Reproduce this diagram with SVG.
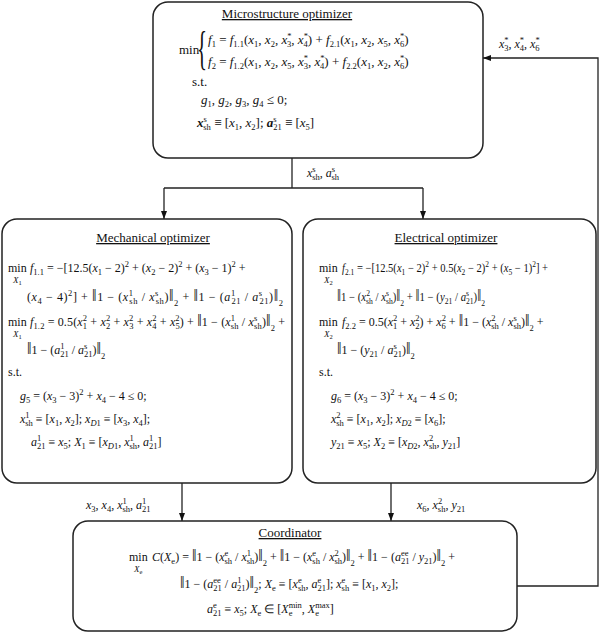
<svg xmlns="http://www.w3.org/2000/svg" width="600" height="633" viewBox="0 0 600 633">
<defs>
<style>
.box{fill:#fff;stroke:#222;stroke-width:1.5}
.ln{fill:none;stroke:#222;stroke-width:1.3}
.t{font-family:"Liberation Serif","Times New Roman",serif;font-size:13px;fill:#111}
.e{font-size:12px}
.h{font-size:13px;text-decoration:underline}
.i{font-style:italic}
.bi{font-style:italic;font-weight:bold}
.sb{font-size:8.5px;baseline-shift:-3px;font-style:normal}
.sp{font-size:8.5px;baseline-shift:5px;font-style:normal}
.n2{font-size:8.5px;baseline-shift:-5px;font-style:normal}
.nm{font-size:16px}
.mx{font-size:9px;font-style:italic}
.ss{font-size:6.5px;baseline-shift:-2px;font-style:normal}
</style>
<marker id="ah" markerWidth="8" markerHeight="8" refX="8" refY="4" orient="auto" markerUnits="userSpaceOnUse"><path d="M0,1 L8,4 L0,7 z" fill="#111"/></marker>
</defs>
<rect width="600" height="633" fill="#fff"/>

<g id="connectors">
<path class="ln" d="M292,158 V188"/>
<path class="ln" d="M164,188 H423"/>
<path class="ln" d="M164,188 V219" marker-end="url(#ah)"/>
<path class="ln" d="M423,188 V219" marker-end="url(#ah)"/>
<path class="ln" d="M182,483 V521" marker-end="url(#ah)"/>
<path class="ln" d="M391,483 V521" marker-end="url(#ah)"/>
<path class="ln" d="M517,586 H598 V58 H483" marker-end="url(#ah)"/>
<text class="t e" x="307" y="177"><tspan class="i">x</tspan><tspan class="sp">s</tspan><tspan class="sb" dx="-3.5">sh</tspan>, <tspan class="i">a</tspan><tspan class="sp">s</tspan><tspan class="sb" dx="-3.5">sh</tspan></text>
<text class="t e" x="499" y="48"><tspan class="i">x</tspan><tspan class="sp">*</tspan><tspan class="sb" dx="-4.3">3</tspan>, <tspan class="i">x</tspan><tspan class="sp">*</tspan><tspan class="sb" dx="-4.3">4</tspan>, <tspan class="i">x</tspan><tspan class="sp">*</tspan><tspan class="sb" dx="-4.3">6</tspan></text>
<text class="t e" x="86" y="509"><tspan class="i">x</tspan><tspan class="sb">3</tspan>, <tspan class="i">x</tspan><tspan class="sb">4</tspan>, <tspan class="i">x</tspan><tspan class="sp">1</tspan><tspan class="sb" dx="-4.3">sh</tspan>, <tspan class="i">a</tspan><tspan class="sp">1</tspan><tspan class="sb" dx="-4.3">21</tspan></text>
<text class="t e" x="417" y="509"><tspan class="i">x</tspan><tspan class="sb">6</tspan>, <tspan class="i">x</tspan><tspan class="sp">2</tspan><tspan class="sb" dx="-4.3">sh</tspan>, <tspan class="i">y</tspan><tspan class="sb">21</tspan></text>
</g>

<g id="microstructure">
<rect class="box" x="153" y="2" width="330" height="156" rx="15"/>
<text class="t h" x="287" y="18" text-anchor="middle">Microstructure optimizer</text>
<text class="t" x="179" y="54">min</text>
<text class="t" style="font-size:46px" transform="translate(197,64) scale(0.45,1)">{</text>
<text class="t" x="208" y="44"><tspan class="i">f</tspan><tspan class="sb">1</tspan> = <tspan class="i">f</tspan><tspan class="sb">1.1</tspan>(<tspan class="i">x</tspan><tspan class="sb">1</tspan>, <tspan class="i">x</tspan><tspan class="sb">2</tspan>, <tspan class="i">x</tspan><tspan class="sp">*</tspan><tspan class="sb" dx="-4.3">3</tspan>, <tspan class="i">x</tspan><tspan class="sp">*</tspan><tspan class="sb" dx="-4.3">4</tspan>) + <tspan class="i">f</tspan><tspan class="sb">2.1</tspan>(<tspan class="i">x</tspan><tspan class="sb">1</tspan>, <tspan class="i">x</tspan><tspan class="sb">2</tspan>, <tspan class="i">x</tspan><tspan class="sb">5</tspan>, <tspan class="i">x</tspan><tspan class="sp">*</tspan><tspan class="sb" dx="-4.3">6</tspan>)</text>
<text class="t" x="208" y="66"><tspan class="i">f</tspan><tspan class="sb">2</tspan> = <tspan class="i">f</tspan><tspan class="sb">1.2</tspan>(<tspan class="i">x</tspan><tspan class="sb">1</tspan>, <tspan class="i">x</tspan><tspan class="sb">2</tspan>, <tspan class="i">x</tspan><tspan class="sb">5</tspan>, <tspan class="i">x</tspan><tspan class="sp">*</tspan><tspan class="sb" dx="-4.3">3</tspan>, <tspan class="i">x</tspan><tspan class="sp">*</tspan><tspan class="sb" dx="-4.3">4</tspan>) + <tspan class="i">f</tspan><tspan class="sb">2.2</tspan>(<tspan class="i">x</tspan><tspan class="sb">1</tspan>, <tspan class="i">x</tspan><tspan class="sb">2</tspan>, <tspan class="i">x</tspan><tspan class="sp">*</tspan><tspan class="sb" dx="-4.3">6</tspan>)</text>
<text class="t" x="192" y="86">s.t.</text>
<text class="t" x="201" y="104"><tspan class="i">g</tspan><tspan class="sb">1</tspan>, <tspan class="i">g</tspan><tspan class="sb">2</tspan>, <tspan class="i">g</tspan><tspan class="sb">3</tspan>, <tspan class="i">g</tspan><tspan class="sb">4</tspan> ≤ 0;</text>
<text class="t" x="197" y="127"><tspan class="bi">x</tspan><tspan class="sp">s</tspan><tspan class="sb" dx="-3.5">sh</tspan> ≡ [<tspan class="i">x</tspan><tspan class="sb">1</tspan>, <tspan class="i">x</tspan><tspan class="sb">2</tspan>]; <tspan class="bi">a</tspan><tspan class="sp">s</tspan><tspan class="sb" dx="-3.5">21</tspan> ≡ [<tspan class="i">x</tspan><tspan class="sb">5</tspan>]</text>
</g>

<g id="mechanical">
<rect class="box" x="2" y="219" width="290" height="264" rx="15"/>
<text class="t h" x="153" y="242" text-anchor="middle">Mechanical optimizer</text>
<text class="t e" x="8" y="272">min</text>
<text class="t mx" x="13" y="283">X<tspan class="ss">1</tspan></text>
<text class="t e" x="30" y="272"><tspan class="i">f</tspan><tspan class="sb">1.1</tspan> = −[12.5(<tspan class="i">x</tspan><tspan class="sb">1</tspan> − 2)<tspan class="sp">2</tspan> + (<tspan class="i">x</tspan><tspan class="sb">2</tspan> − 2)<tspan class="sp">2</tspan> + (<tspan class="i">x</tspan><tspan class="sb">3</tspan> − 1)<tspan class="sp">2</tspan> +</text>
<text class="t e" x="27" y="301" textLength="256" lengthAdjust="spacing">(<tspan class="i">x</tspan><tspan class="sb">4</tspan> − 4)<tspan class="sp">2</tspan>] + <tspan class="nm">‖</tspan>1 − (<tspan class="i">x</tspan><tspan class="sp">1</tspan><tspan class="sb" dx="-4.3">sh</tspan> / <tspan class="i">x</tspan><tspan class="sp">s</tspan><tspan class="sb" dx="-3.3">sh</tspan>)<tspan class="nm">‖</tspan><tspan class="n2">2</tspan> + <tspan class="nm">‖</tspan>1 − (<tspan class="i">a</tspan><tspan class="sp">1</tspan><tspan class="sb" dx="-4.3">21</tspan> / <tspan class="i">a</tspan><tspan class="sp">s</tspan><tspan class="sb" dx="-3.3">21</tspan>)<tspan class="nm">‖</tspan><tspan class="n2">2</tspan></text>
<text class="t e" x="8" y="326">min</text>
<text class="t mx" x="13" y="337">X<tspan class="ss">1</tspan></text>
<text class="t e" x="30" y="326" textLength="255" lengthAdjust="spacing"><tspan class="i">f</tspan><tspan class="sb">1.2</tspan> = 0.5(<tspan class="i">x</tspan><tspan class="sp">2</tspan><tspan class="sb" dx="-4.3">1</tspan> + <tspan class="i">x</tspan><tspan class="sp">2</tspan><tspan class="sb" dx="-4.3">2</tspan> + <tspan class="i">x</tspan><tspan class="sp">2</tspan><tspan class="sb" dx="-4.3">3</tspan> + <tspan class="i">x</tspan><tspan class="sp">2</tspan><tspan class="sb" dx="-4.3">4</tspan> + <tspan class="i">x</tspan><tspan class="sp">2</tspan><tspan class="sb" dx="-4.3">5</tspan>) + <tspan class="nm">‖</tspan>1 − (<tspan class="i">x</tspan><tspan class="sp">1</tspan><tspan class="sb" dx="-4.3">sh</tspan> / <tspan class="i">x</tspan><tspan class="sp">s</tspan><tspan class="sb" dx="-3.3">sh</tspan>)<tspan class="nm">‖</tspan><tspan class="n2">2</tspan> +</text>
<text class="t e" x="27" y="354"><tspan class="nm">‖</tspan>1 − (<tspan class="i">a</tspan><tspan class="sp">1</tspan><tspan class="sb" dx="-4.3">21</tspan> / <tspan class="i">a</tspan><tspan class="sp">s</tspan><tspan class="sb" dx="-3.3">21</tspan>)<tspan class="nm">‖</tspan><tspan class="n2">2</tspan></text>
<text class="t e" x="8" y="376">s.t.</text>
<text class="t e" x="20" y="400"><tspan class="i">g</tspan><tspan class="sb">5</tspan> = (<tspan class="i">x</tspan><tspan class="sb">3</tspan> − 3)<tspan class="sp">2</tspan> + <tspan class="i">x</tspan><tspan class="sb">4</tspan> − 4 ≤ 0;</text>
<text class="t e" x="20" y="423"><tspan class="i">x</tspan><tspan class="sp">1</tspan><tspan class="sb" dx="-4.3">sh</tspan> ≡ [<tspan class="i">x</tspan><tspan class="sb">1</tspan>, <tspan class="i">x</tspan><tspan class="sb">2</tspan>]; <tspan class="i">x</tspan><tspan class="sb"><tspan class="i">D</tspan>1</tspan> ≡ [<tspan class="i">x</tspan><tspan class="sb">3</tspan>, <tspan class="i">x</tspan><tspan class="sb">4</tspan>];</text>
<text class="t e" x="31" y="446"><tspan class="i">a</tspan><tspan class="sp">1</tspan><tspan class="sb" dx="-4.3">21</tspan> ≡ <tspan class="i">x</tspan><tspan class="sb">5</tspan>; <tspan class="i">X</tspan><tspan class="sb">1</tspan> ≡ [<tspan class="i">x</tspan><tspan class="sb"><tspan class="i">D</tspan>1</tspan>, <tspan class="i">x</tspan><tspan class="sp">1</tspan><tspan class="sb" dx="-4.3">sh</tspan>, <tspan class="i">a</tspan><tspan class="sp">1</tspan><tspan class="sb" dx="-4.3">21</tspan>]</text>
</g>

<g id="electrical">
<rect class="box" x="303" y="219" width="293" height="264" rx="15"/>
<text class="t h" x="446" y="242" text-anchor="middle">Electrical optimizer</text>
<text class="t e" x="319" y="272">min</text>
<text class="t mx" x="324" y="283">X<tspan class="ss">2</tspan></text>
<text class="t e" x="342" y="272" textLength="206" lengthAdjust="spacingAndGlyphs"><tspan class="i">f</tspan><tspan class="sb">2.1</tspan> = −[12.5(<tspan class="i">x</tspan><tspan class="sb">1</tspan> − 2)<tspan class="sp">2</tspan> + 0.5(<tspan class="i">x</tspan><tspan class="sb">2</tspan> − 2)<tspan class="sp">2</tspan> + (<tspan class="i">x</tspan><tspan class="sb">5</tspan> − 1)<tspan class="sp">2</tspan>] +</text>
<text class="t e" x="337" y="301" textLength="148" lengthAdjust="spacingAndGlyphs"><tspan class="nm">‖</tspan>1 − (<tspan class="i">x</tspan><tspan class="sp">2</tspan><tspan class="sb" dx="-4.3">sh</tspan> / <tspan class="i">x</tspan><tspan class="sp">s</tspan><tspan class="sb" dx="-3.3">sh</tspan>)<tspan class="nm">‖</tspan><tspan class="n2">2</tspan> + <tspan class="nm">‖</tspan>1 − (<tspan class="i">y</tspan><tspan class="sb">21</tspan> / <tspan class="i">a</tspan><tspan class="sp">s</tspan><tspan class="sb" dx="-3.3">21</tspan>)<tspan class="nm">‖</tspan><tspan class="n2">2</tspan></text>
<text class="t e" x="319" y="326">min</text>
<text class="t mx" x="324" y="337">X<tspan class="ss">2</tspan></text>
<text class="t e" x="342" y="326"><tspan class="i">f</tspan><tspan class="sb">2.2</tspan> = 0.5(<tspan class="i">x</tspan><tspan class="sp">2</tspan><tspan class="sb" dx="-4.3">1</tspan> + <tspan class="i">x</tspan><tspan class="sp">2</tspan><tspan class="sb" dx="-4.3">2</tspan>) + <tspan class="i">x</tspan><tspan class="sp">2</tspan><tspan class="sb" dx="-4.3">6</tspan> + <tspan class="nm">‖</tspan>1 − (<tspan class="i">x</tspan><tspan class="sp">2</tspan><tspan class="sb" dx="-4.3">sh</tspan> / <tspan class="i">x</tspan><tspan class="sp">s</tspan><tspan class="sb" dx="-3.3">sh</tspan>)<tspan class="nm">‖</tspan><tspan class="n2">2</tspan> +</text>
<text class="t e" x="337" y="354"><tspan class="nm">‖</tspan>1 − (<tspan class="i">y</tspan><tspan class="sb">21</tspan> / <tspan class="i">a</tspan><tspan class="sp">s</tspan><tspan class="sb" dx="-3.3">21</tspan>)<tspan class="nm">‖</tspan><tspan class="n2">2</tspan></text>
<text class="t e" x="319" y="376">s.t.</text>
<text class="t e" x="331" y="400"><tspan class="i">g</tspan><tspan class="sb">6</tspan> = (<tspan class="i">x</tspan><tspan class="sb">3</tspan> − 3)<tspan class="sp">2</tspan> + <tspan class="i">x</tspan><tspan class="sb">4</tspan> − 4 ≤ 0;</text>
<text class="t e" x="331" y="423"><tspan class="i">x</tspan><tspan class="sp">2</tspan><tspan class="sb" dx="-4.3">sh</tspan> ≡ [<tspan class="i">x</tspan><tspan class="sb">1</tspan>, <tspan class="i">x</tspan><tspan class="sb">2</tspan>]; <tspan class="i">x</tspan><tspan class="sb"><tspan class="i">D</tspan>2</tspan> ≡ [<tspan class="i">x</tspan><tspan class="sb">6</tspan>];</text>
<text class="t e" x="331" y="446"><tspan class="i">y</tspan><tspan class="sb">21</tspan> ≡ <tspan class="i">x</tspan><tspan class="sb">5</tspan>; <tspan class="i">X</tspan><tspan class="sb">2</tspan> ≡ [<tspan class="i">x</tspan><tspan class="sb"><tspan class="i">D</tspan>2</tspan>, <tspan class="i">x</tspan><tspan class="sp">2</tspan><tspan class="sb" dx="-4.3">sh</tspan>, <tspan class="i">y</tspan><tspan class="sb">21</tspan>]</text>
</g>

<g id="coordinator">
<rect class="box" x="73" y="521" width="444" height="110" rx="15"/>
<text class="t h" x="290" y="537" text-anchor="middle">Coordinator</text>
<text class="t e" x="129" y="561">min</text>
<text class="t mx" x="134" y="572">X<tspan class="ss">e</tspan></text>
<text class="t e" x="152" y="561"><tspan class="i">C</tspan>(<tspan class="i">X</tspan><tspan class="sb">e</tspan>) = <tspan class="nm">‖</tspan>1 − (<tspan class="i">x</tspan><tspan class="sp">e</tspan><tspan class="sb" dx="-3.8">sh</tspan> / <tspan class="i">x</tspan><tspan class="sp">1</tspan><tspan class="sb" dx="-4.3">sh</tspan>)<tspan class="nm">‖</tspan><tspan class="n2">2</tspan> + <tspan class="nm">‖</tspan>1 − (<tspan class="i">x</tspan><tspan class="sp">e</tspan><tspan class="sb" dx="-3.8">sh</tspan> / <tspan class="i">x</tspan><tspan class="sp">2</tspan><tspan class="sb" dx="-4.3">sh</tspan>)<tspan class="nm">‖</tspan><tspan class="n2">2</tspan> + <tspan class="nm">‖</tspan>1 − (<tspan class="i">a</tspan><tspan class="sp">ee</tspan><tspan class="sb" dx="-7.5">21</tspan> / <tspan class="i">y</tspan><tspan class="sb">21</tspan>)<tspan class="nm">‖</tspan><tspan class="n2">2</tspan> +</text>
<text class="t e" x="180" y="588"><tspan class="nm">‖</tspan>1 − (<tspan class="i">a</tspan><tspan class="sp">ee</tspan><tspan class="sb" dx="-7.5">21</tspan> / <tspan class="i">a</tspan><tspan class="sp">1</tspan><tspan class="sb" dx="-4.3">21</tspan>)<tspan class="nm">‖</tspan><tspan class="n2">2</tspan>; <tspan class="i">X</tspan><tspan class="sb">e</tspan> ≡ [<tspan class="i">x</tspan><tspan class="sp">e</tspan><tspan class="sb" dx="-3.8">sh</tspan>, <tspan class="i">a</tspan><tspan class="sp">e</tspan><tspan class="sb" dx="-3.8">21</tspan>]; <tspan class="i">x</tspan><tspan class="sp">e</tspan><tspan class="sb" dx="-3.8">sh</tspan> ≡ [<tspan class="i">x</tspan><tspan class="sb">1</tspan>, <tspan class="i">x</tspan><tspan class="sb">2</tspan>];</text>
<text class="t e" x="207" y="613"><tspan class="i">a</tspan><tspan class="sp">e</tspan><tspan class="sb" dx="-3.8">21</tspan> ≡ <tspan class="i">x</tspan><tspan class="sb">5</tspan>; <tspan class="i">X</tspan><tspan class="sb">e</tspan> ∈ [<tspan class="i">X</tspan><tspan class="sb">e</tspan><tspan class="sp" dx="-3.8">min</tspan>, <tspan class="i">X</tspan><tspan class="sb">e</tspan><tspan class="sp" dx="-3.8">max</tspan>]</text>
</g>
</svg>
